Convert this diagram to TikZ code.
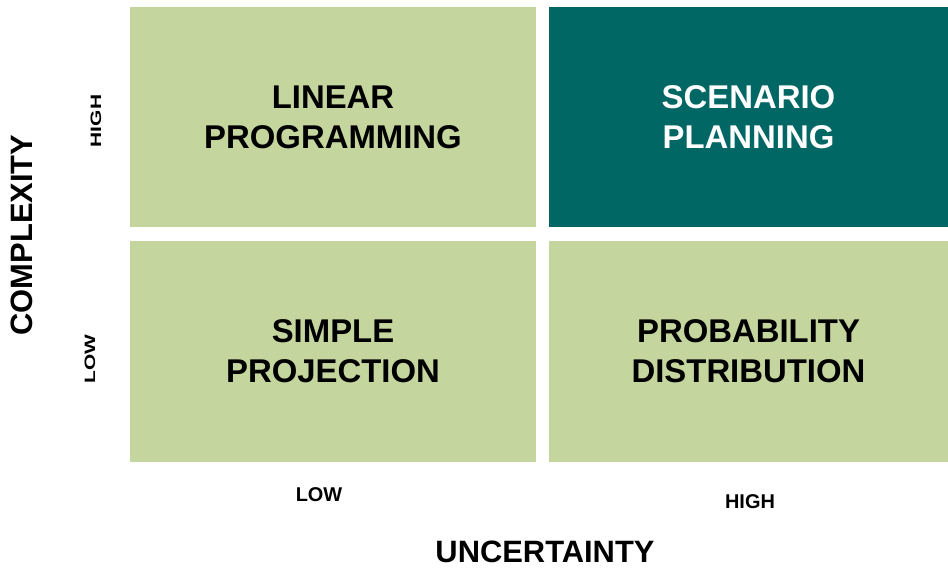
\documentclass[tikz,border=0pt]{standalone}
\usepackage{fontspec}
\setmainfont{Liberation Sans}
\usepackage{graphicx}

\definecolor{sage}{HTML}{C5D59E}
\definecolor{darkteal}{HTML}{006764}

\tikzset{
  quad/.style={fill=sage, minimum width=406bp, minimum height=220bp, inner sep=0pt,
    align=center, font=\fontsize{33}{40}\selectfont\bfseries},
  axislabel/.style={font=\fontsize{31}{36}\selectfont\bfseries},
  ticklabel/.style={font=\fontsize{20}{24}\selectfont\bfseries},
  sidelabel/.style={rotate=90, inner sep=1pt, font=\fontsize{21}{24}\selectfont\bfseries}
}

\begin{document}
\begin{tikzpicture}[x=1bp, y=-1bp]
  \useasboundingbox (0,0) rectangle (948,568);

  % the four quadrants
  \node[quad] (linear)   at (333,117) {LINEAR\\PROGRAMMING};
  \node[quad, fill=darkteal, text=white, minimum width=399bp] (scenario) at (748.5,117) {SCENARIO\\PLANNING};
  \node[quad] (simple)   at (333,351.5) {SIMPLE\\PROJECTION};
  \node[quad, minimum width=399bp] (probability) at (748.5,351.5) {PROBABILITY\\DISTRIBUTION};

  % vertical axis
  \node[axislabel, rotate=90] (complexity) at (22,235) {COMPLEXITY};
  \node[sidelabel] (yhigh) at (96,121) {\scalebox{1}[0.72]{HIGH}};
  \node[sidelabel] (ylow)  at (90,359) {\scalebox{1}[0.72]{LOW}};

  % horizontal axis
  \node[ticklabel] (xlow)  at (319,495) {LOW};
  \node[ticklabel] (xhigh) at (750,502) {HIGH};
  \node[axislabel, inner sep=1pt] (uncertainty) at (545,552) {UNCERTAINTY};
\end{tikzpicture}
\end{document}
